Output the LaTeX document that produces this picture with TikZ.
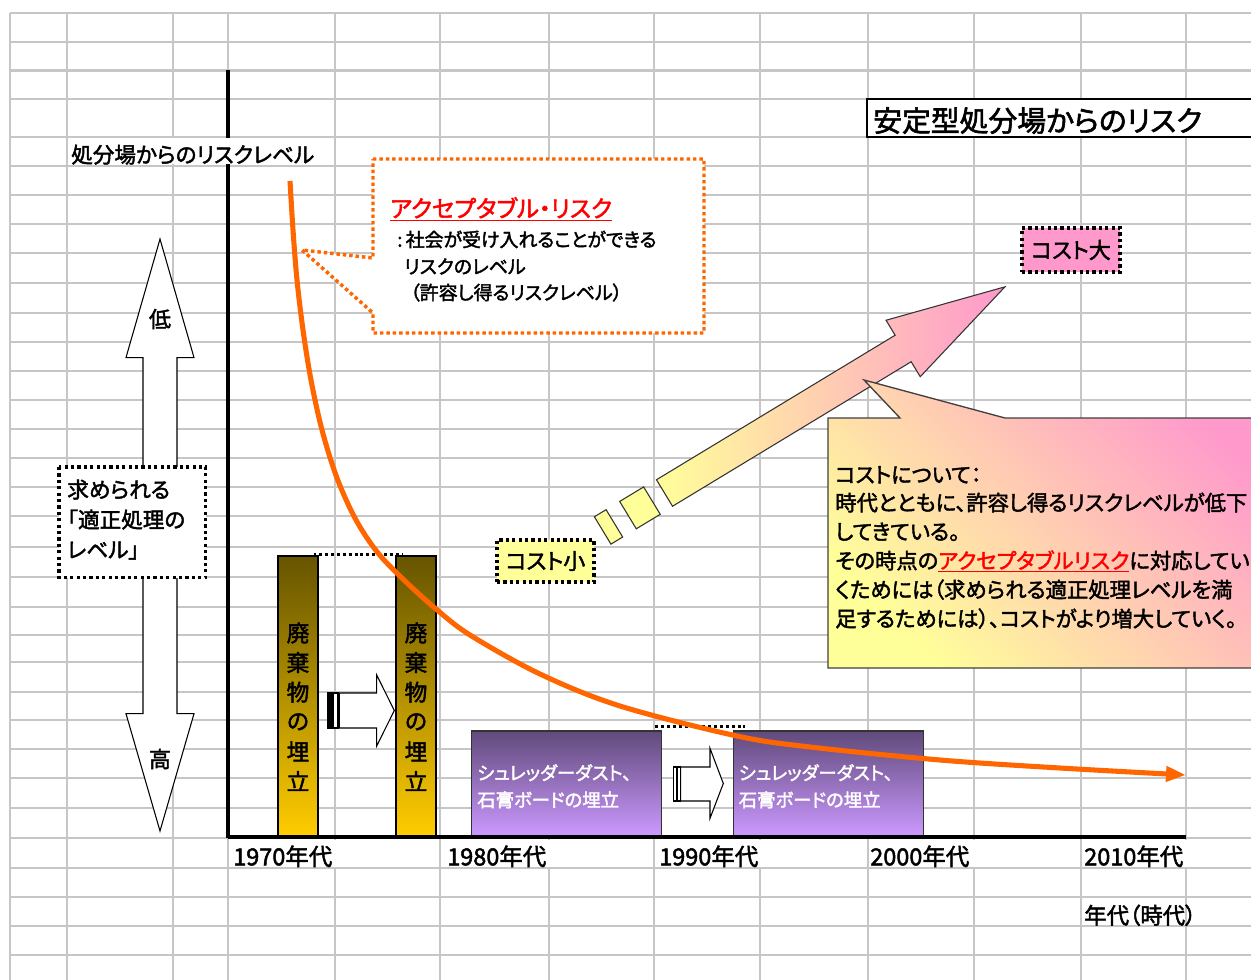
\documentclass[tikz,border=0pt]{standalone}
\usepackage{fontspec}
\setmainfont[RawFeature=+palt,FakeBold=2]{Noto Sans CJK JP}
\usetikzlibrary{arrows.meta}
\definecolor{gridc}{RGB}{198,198,198}
\definecolor{orng}{RGB}{255,102,0}
\definecolor{barTop}{RGB}{102,84,0}
\definecolor{barBot}{RGB}{255,204,0}
\definecolor{purTop}{RGB}{96,74,123}
\definecolor{purBot}{RGB}{204,153,255}
\definecolor{pinkc}{RGB}{255,153,204}
\definecolor{yelc}{RGB}{255,255,153}
\definecolor{accred}{RGB}{255,0,0}
\begin{document}
\begin{tikzpicture}[x=0.75pt,y=-0.75pt,
  gridl/.style={draw=gridc,line width=1.7pt},
  txt/.style={inner sep=0pt,anchor=base west},
  ctxt/.style={inner sep=0pt},
  fs/.style={font=\fontsize{#1pt}{#1pt}\selectfont},
  dotbox/.style={draw=black,line width=2.4pt,dash pattern=on 2.4pt off 2.4pt},
  dotline/.style={draw=black,line width=2.2pt,dash pattern=on 2.2pt off 2.2pt},
  odot/.style={draw=orng,line width=2.6pt,dash pattern=on 2.6pt off 2.2pt},
  blk/.style={draw=black,line width=0.8pt,fill=white},
  bar/.style={draw=black,line width=0.8pt,top color=barTop,bottom color=barBot,minimum width=30pt,minimum height=210pt,inner sep=0pt},
  pbox/.style={draw=black!80,line width=0.8pt,top color=purTop,bottom color=purBot,minimum width=142.7pt,minimum height=78.75pt,inner sep=0pt},
]
\useasboundingbox (0,0) rectangle (1251,980);
\fill[white] (0,0) rectangle (1251,980);
% grid
\foreach \yy in {13,42,70.5,99.3,137,166,195,224,253.3,282.7,313,341.7,371,400,429,458.3,487,516,546.7,576.7,606.7,635,662.3,691.7,720.3,749.3,778.3,807.7,838,868,897,926,955}
  \draw[gridl] (10,\yy) -- (1260,\yy);
\foreach \xx in {10,67,173,228,335,440,549,654,760,868,974,1081,1186}
  \draw[gridl] (\xx,13) -- (\xx,990);
% vertical axis
\draw[black,line width=2.3pt] (228,70.5) -- (228,838);
% merged label cells
\foreach \a/\b in {228/440,440/654,654/868,868/1081,1081/1300}
  \fill[white] (\a+1.5,840) rectangle (\b-1.5,866.5);
\fill[white] (68.5,138.5) rectangle (333.5,164.5);
% title
\draw[black,line width=1.5pt,fill=white] (866.7,99.3) rectangle (1275,137.3);
\node[txt,fs=21.6] (title) at (873,131.5) {安定型処分場からのリスク};
\node[txt,fs=16.2] (ylab) at (71,162.8) {処分場からのリスクレベル};
% left double arrow
\path[blk] (160,239) -- (194,357.6) -- (177,357.6) -- (177,713.7) -- (194,713.7) -- (160,831) -- (126,713.7) -- (143,713.7) -- (143,357.6) -- (126,357.6) -- cycle;
\node[ctxt,fs=16.5] (low) at (160,319) {低};
\node[ctxt,fs=16.5] (high) at (160,759) {高};
\path[dotbox,fill=white] (59,467) rectangle (205.7,577.5);
\node[txt,fs=16.2] (req1) at (67,497.8) {求められる};
\node[txt,fs=16.2] (req2) at (67,527.8) {「適正処理の};
\node[txt,fs=16.2] (req3) at (67,557.8) {レベル」};
% acceptable risk callout
\path[odot,fill=white] (373,159) -- (704,159) -- (704,333) -- (373,333) -- (373,313) -- (302,250) -- (373,258) -- cycle;
\node[txt,fs=17.6,text=accred] (acc) at (390,217.3) {\underline{アクセプタブル・リスク}};
\node[txt,fs=14.2] (acc1) at (397,246.7) {:\,社会が受け入れることができる};
\node[txt,fs=14.2] (acc2) at (404,273.7) {リスクのレベル};
\node[txt,fs=14.2] (acc3) at (410,299.7) {（許容し得るリスクレベル）};
% bars
\node[bar] (bar1) at (298,696) {};
\node[bar] (bar2) at (416,696) {};
\foreach \c [count=\i from 0] in {廃,棄,物,の,埋,立}{
  \node[ctxt,fs=17] (b1c\i) at (298,633+29.6*\i) {\c};
  \node[ctxt,fs=17] (b2c\i) at (416,633+29.6*\i) {\c};
}
\draw[dotline] ([xshift=-3.75pt,yshift=0.75pt]bar1.north east) -- ([xshift=5.25pt,yshift=0.75pt]bar2.north west);
% striped arrow 1
\path[blk,fill=black] (328,693) rectangle (331,728);
\path[blk] (333,693) rectangle (338,728);
\path[blk] (339.3,693) -- (376.7,693) -- (376.7,675) -- (394.3,710.5) -- (376.7,746) -- (376.7,728) -- (339.3,728) -- cycle;
% purple boxes
\node[pbox] (pb1) at (566.8,783.5) {};
\node[pbox] (pb2) at (828.2,783.5) {};
\node[txt,fs=13.8,text=white] (pt1a) at (477,779.8) {シュレッダーダスト、};
\node[txt,fs=13.8,text=white] (pt1b) at (477,806.8) {石膏ボードの埋立};
\node[txt,fs=13.8,text=white] (pt2a) at (738.5,779.8) {シュレッダーダスト、};
\node[txt,fs=13.8,text=white] (pt2b) at (738.5,806.8) {石膏ボードの埋立};
\draw[dotline] ([xshift=-5.25pt,yshift=3pt]pb1.north east) -- ([xshift=9pt,yshift=3pt]pb2.north west);
% striped arrow 2
\path[blk] (673.3,767) rectangle (676.3,801);
\path[blk] (677.5,767) rectangle (680.7,801);
\path[blk] (680.7,767) -- (710,767) -- (710,748.3) -- (723.3,783.5) -- (710,818.3) -- (710,801) -- (680.7,801) -- cycle;
% horizontal axis
\draw[black,line width=3pt] (228,836.5) -- (1186,836.5);
% big cost arrow
\begin{scope}[shift={(664.5,493)},rotate=31.2]
  \path[draw=black!80,line width=0.8pt,left color=yelc,right color=pinkc] (0,-15.5) -- (279,-15.5) -- (279,-33) -- (398,0) -- (279,33) -- (279,15.5) -- (0,15.5) -- cycle;
  \path[draw=black!80,line width=0.8pt,fill=yelc] (-42.7,-16) rectangle (-14.7,16);
  \path[draw=black!80,line width=0.8pt,fill=yelc] (-72.3,-16) rectangle (-58.6,16);
\end{scope}
% cost callout
\path[draw=black!75,line width=1pt,top color=pinkc,bottom color=yelc,shading angle=-45] (828,418) -- (900,418) -- (864,380) -- (1005,418) -- (1275,418) -- (1275,668) -- (828,668) -- cycle;
\node[txt,fs=16] (c1) at (835,482.7) {コストについて：};
\node[txt,fs=16] (c2) at (835,510.7) {時代とともに、許容し得るリスクレベルが低下};
\node[txt,fs=16] (c3) at (835,539.7) {してきている。};
\node[txt,fs=16] (c4) at (835,568.7) {その時点の\textcolor{accred}{\underline{アクセプタブルリスク}}に対応してい};
\node[txt,fs=16] (c5) at (835,597.7) {くためには（求められる適正処理レベルを満};
\node[txt,fs=16] (c6) at (835,626.7) {足するためには）、コストがより増大していく。};
% cost small / large
\node[dotbox,fill=yelc,minimum width=72.75pt,minimum height=31.5pt,inner sep=0pt,fs=16.5] (csmall) at (545.5,561) {コスト小};
\node[dotbox,fill=pinkc,minimum width=73.5pt,minimum height=33pt,inner sep=0pt,fs=16.5] (clarge) at (1071,250) {コスト大};
% risk curve
\draw[orng,line width=3.8pt,-{Triangle[length=15pt,width=11pt]}] plot[smooth,tension=0.55] coordinates {(290,181) (293,230) (297,280) (303,330) (311,380) (322,430) (337,478) (356,520) (378,553) (405,581) (436,609) (470,635) (540,674) (620,706) (737,736) (810,747) (940,760) (1060,768) (1186,775)};
% year labels
\node[txt,fs=17.6] (y70) at (233,865.3) {1970年代};
\node[txt,fs=17.6] (y80) at (447,865.3) {1980年代};
\node[txt,fs=17.6] (y90) at (659,865.3) {1990年代};
\node[txt,fs=17.6] (y00) at (870,865.3) {2000年代};
\node[txt,fs=17.6] (y10) at (1084,865.3) {2010年代};
\node[txt,fs=16.8] (era) at (1084,923.8) {年代（時代）};
\end{tikzpicture}
\end{document}
